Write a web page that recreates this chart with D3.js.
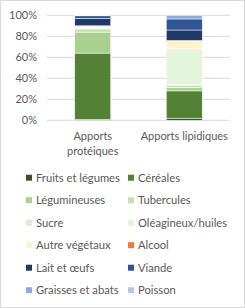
<!DOCTYPE html>
<html>
<head>
<meta charset="utf-8">
<script src="https://cdn.jsdelivr.net/npm/d3@7"></script>
<style>
  html, body { margin: 0; padding: 0; background: #fff; }
  svg text { font-family: Lato, "Open Sans", sans-serif; fill: #595959; }
</style>
</head>
<body>
<div id="chart"></div>
<script>
// categories
const apports = ["Apports protéiques", "Apports lipidiques"];
const groupes = ["Fruits et légumes", "Céréales", "Légumineuses", "Tubercules", "Sucre",
    "Oléagineux/huiles", "Autre végétaux", "Alcool", "Lait et œufs", "Viande",
    "Graisses et abats", "Poisson"];
const couleurs = ["#375623", "#538135", "#A9D18E", "#C5E0B4", "#DDEBD5",
    "#E3F5DA", "#FFF2CC", "#ED7D31", "#203864", "#2F5597", "#8FAADC", "#B4C7E7"];
// shares in %, same order as groupes
const proteiques = [1, 63, 20, 3, 0.5, 1, 1.5, 0, 7, 2.5, 0.5, 0];
const lipidiques = [2, 26, 3.5, 2, 0.5, 34, 8, 0, 10, 10.5, 3.5, 0];
const yTicks = [0, 20, 40, 60, 80, 100];

const W = 245, H = 308;
const svg = d3.select("#chart").append("svg")
    .attr("width", W).attr("height", H);

// frame
svg.append("rect")
    .attr("x", 0.5).attr("y", 0.5)
    .attr("width", W - 1).attr("height", H - 1)
    .attr("fill", "#fff").attr("stroke", "#D9D9D9");

const plot = {left: 47, right: 230, top: 15.3, bottom: 120.3};

const x = d3.scaleBand()
    .domain(apports)
    .range([plot.left, plot.right])
    .paddingInner(0.607)
    .paddingOuter(0.3035);

const y = d3.scaleLinear()
    .domain([0, 100])
    .range([plot.bottom, plot.top]);

// gridlines
svg.append("g")
    .selectAll("line")
    .data(yTicks)
    .join("line")
    .attr("x1", plot.left).attr("x2", plot.right)
    .attr("y1", d => y(d)).attr("y2", d => y(d))
    .attr("stroke", "#D9D9D9").attr("stroke-width", 1);

// y labels
svg.append("g")
    .selectAll("text")
    .data(yTicks)
    .join("text")
    .attr("x", 37)
    .attr("y", d => y(d))
    .attr("dy", "0.35em")
    .attr("text-anchor", "end")
    .style("font-size", "11px")
    .text(d => d + "%");

// stacked data
const rows = apports.map((a, i) => {
    const vals = i === 0 ? proteiques : lipidiques;
    const r = {apport: a};
    groupes.forEach((g, j) => r[g] = vals[j]);
    return r;
});
const series = d3.stack().keys(groupes)(rows);

svg.append("g")
    .selectAll("g")
    .data(series)
    .join("g")
    .attr("fill", (d, i) => couleurs[i])
    .selectAll("rect")
    .data(d => d.filter(p => p[1] > p[0]))
    .join("rect")
    .attr("x", d => x(d.data.apport))
    .attr("width", x.bandwidth())
    .attr("y", d => y(d[1]))
    .attr("height", d => y(d[0]) - y(d[1]))
    .attr("stroke", "#fff")
    .attr("stroke-width", 0.5);

// x labels
const xLabels = [["Apports", "protéiques"], ["Apports lipidiques"]];
apports.forEach((a, i) => {
    const t = svg.append("text")
        .attr("text-anchor", "middle")
        .style("font-size", "11px");
    xLabels[i].forEach((line, k) => {
        t.append("tspan")
            .attr("x", x(a) + x.bandwidth() / 2)
            .attr("y", 140 + k * 15)
            .text(line);
    });
});

// legend
const legend = svg.append("g")
    .selectAll("g")
    .data(groupes)
    .join("g")
    .attr("transform", (d, i) =>
        `translate(${i % 2 === 0 ? 26 : 128}, ${177.7 + Math.floor(i / 2) * 22.5})`);

legend.append("rect")
    .attr("x", 0).attr("y", -3)
    .attr("width", 6).attr("height", 6)
    .attr("fill", (d, i) => couleurs[i]);

legend.append("text")
    .attr("x", 10)
    .attr("dy", "0.35em")
    .style("font-size", "11.2px")
    .text(d => d);
</script>
</body>
</html>
